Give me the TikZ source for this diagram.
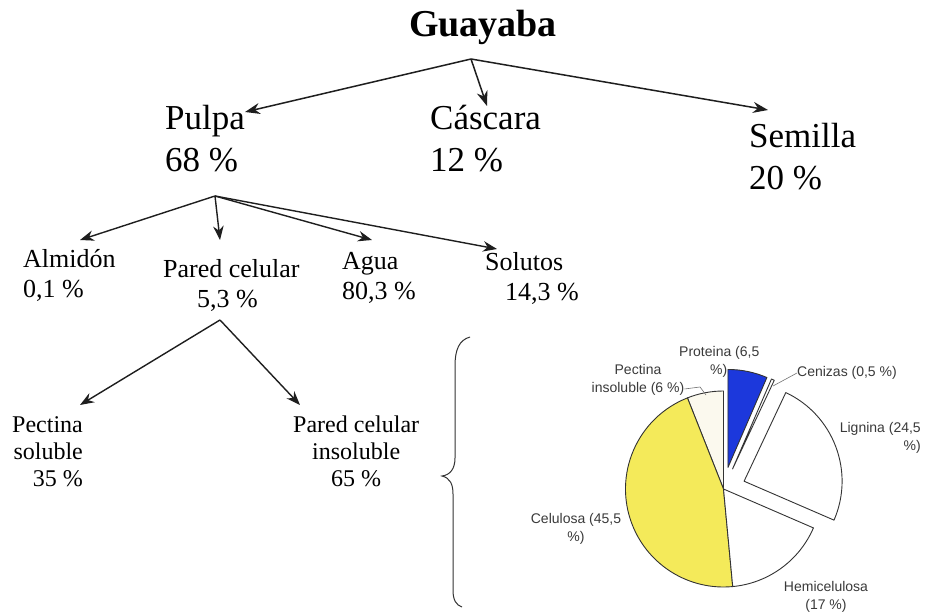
\documentclass[tikz,border=0pt]{standalone}
\usepackage{fontspec}
\setmainfont{Liberation Serif}
\newfontfamily\piefont{Liberation Sans}
\usetikzlibrary{arrows.meta}
\definecolor{inkline}{HTML}{1E1E1E}
\definecolor{protblue}{HTML}{1C38DC}
\definecolor{celyellow}{HTML}{F4EA5A}
\definecolor{ivory}{HTML}{FBF9EE}
\definecolor{pietext}{HTML}{3A3A3A}
\begin{document}
\begin{tikzpicture}[x=1pt,y=-1pt,
  title/.style={font=\bfseries\fontsize{38}{44}\selectfont, inner sep=0pt, anchor=base},
  % multi-line labels are placed by the baseline of their last line
  lvA/.style={font=\fontsize{35}{42}\selectfont, inner sep=0pt, anchor=base west, align=left},
  lvB/.style={font=\fontsize{26}{30}\selectfont, inner sep=0pt, anchor=base west, align=left},
  lvC/.style={font=\fontsize{24}{27}\selectfont, inner sep=0pt, anchor=base west},
  link/.style={draw=inkline, line width=1.5pt, -{Stealth[length=15pt,width=11pt]}},
  linkS/.style={draw=inkline, line width=1.4pt, -{Stealth[length=14pt,width=10.5pt]}},
  slice/.style={draw=black!80, line width=0.9pt, line join=round},
  pielbl/.style={font=\piefont\fontsize{14}{18}\selectfont, text=pietext, inner sep=0pt, align=center},
  leader/.style={draw=black!55, line width=0.6pt},
]
\useasboundingbox (0,0) rectangle (930,612);
\fill[white] (0,0) rectangle (930,612);

% ---- first level ----
\node[title] (guayaba) at (483,37) {Guayaba};
\coordinate (g0) at (471,59);
\node[lvA] (pulpa) at (165,172) {Pulpa\\68 \%};
\node[lvA] (cascara) at (430,172) {Cáscara\\12 \%};
\node[lvA] (semilla) at (749,190) {Semilla\\20 \%};
\coordinate (tPulpa) at (245,112);
\coordinate (tCascara) at (487,106);
\coordinate (tSemilla) at (768,110);
\draw[link] (g0) -- (tPulpa);
\draw[link] (g0) -- (tCascara);
\draw[link] (g0) -- (tSemilla);

% ---- composition of the pulp ----
\coordinate (p0) at (215,196);
\node[lvB] (almidon) at (23,298) {Almidón\\0,1 \%};
\node[lvB] (pared) at (163,308) {Pared celular\\\hspace*{34pt}5,3 \%};
\node[lvB] (agua) at (342,300) {Agua\\80,3 \%};
\node[lvB] (solutos) at (485,301) {Solutos\\\hspace*{20pt}14,3 \%};
\coordinate (tAlmidon) at (80,240);
\coordinate (tPared) at (220,240);
\coordinate (tAgua) at (372,240);
\coordinate (tSolutos) at (497,249);
\draw[linkS] (p0) -- (tAlmidon);
\draw[linkS] (p0) -- (tPared);
\draw[linkS] (p0) -- (tAgua);
\draw[linkS] (p0) -- (tSolutos);

% ---- cell wall ----
\coordinate (w0) at (220,320);
\node[lvC, align=right] (pectsol) at (12,486) {Pectina\\soluble\\35 \%};
\node[lvC, align=center] (parins) at (293,486) {Pared celular\\insoluble\\65 \%};
\coordinate (tPectSol) at (80,405);
\coordinate (tParIns) at (300,405);
\draw[linkS] (w0) -- (tPectSol);
\draw[linkS] (w0) -- (tParIns);

% ---- brace ----
\draw[draw=black!80, line width=1pt]
  (470,337) .. controls (459,340) and (455,350) .. (455,366)
  -- (455,458) .. controls (455,469) and (450,475) .. (442,476)
  .. controls (450,478) and (453,484) .. (453,494)
  -- (453,590) .. controls (453,600) and (456,605) .. (462,607);

% ---- pie of the insoluble wall ----
\begin{scope}[shift={(723.5,489)}, yscale=-1]
  % pectina insoluble 6 %
  \filldraw[slice, fill=ivory] (0,0) -- (90:98) arc[start angle=90, end angle=111.6, radius=98] -- cycle;
  % celulosa 45.5 %
  \filldraw[slice, fill=celyellow] (0,0) -- (111.6:98) arc[start angle=111.6, end angle=275.4, radius=98] -- cycle;
  % hemicelulosa 17 %
  \filldraw[slice, fill=white] (0,0) -- (275.4:98) arc[start angle=275.4, end angle=336.6, radius=98] -- cycle;
  % lignina 24.5 % (pulled out)
  \filldraw[slice, fill=white] (20.58,7.78) -- ++(-23.4:98) arc[start angle=-23.4, end angle=64.8, radius=98] -- cycle;
  % cenizas 0.5 % (pulled out)
  \filldraw[slice, fill=white] (9.05,20.05) -- ++(64.8:98) arc[start angle=64.8, end angle=66.6, radius=98] -- cycle;
  % proteina 6.5 % (pulled out)
  \filldraw[slice, fill=protblue] (4.46,21.54) -- ++(66.6:98) arc[start angle=66.6, end angle=90, radius=98] -- cycle;
\end{scope}

\node[pielbl, align=left, anchor=north west] (lprot) at (679,346) {Proteina (6,5\\\hspace*{31pt}\%)};
\node[pielbl, anchor=west] (lcen) at (797,373) {Cenizas (0,5 \%)};
\node[pielbl] (lpect) at (638,380) {Pectina\\insoluble (6 \%)};
\node[pielbl, align=right, anchor=north east] (llig) at (921,422) {Lignina (24,5\\\%)};
\node[pielbl] (lcel) at (576,529) {Celulosa (45,5\\\%)};
\node[pielbl] (lhem) at (826,597) {Hemicelulosa\\(17 \%)};

\coordinate (kPect) at (706,395);
\coordinate (kCen) at (773,386);
\draw[leader] (lpect.east |- 0,389) -- (700,387) -- (kPect);
\draw[leader] (kCen) -- (lcen.west);
\end{tikzpicture}
\end{document}
